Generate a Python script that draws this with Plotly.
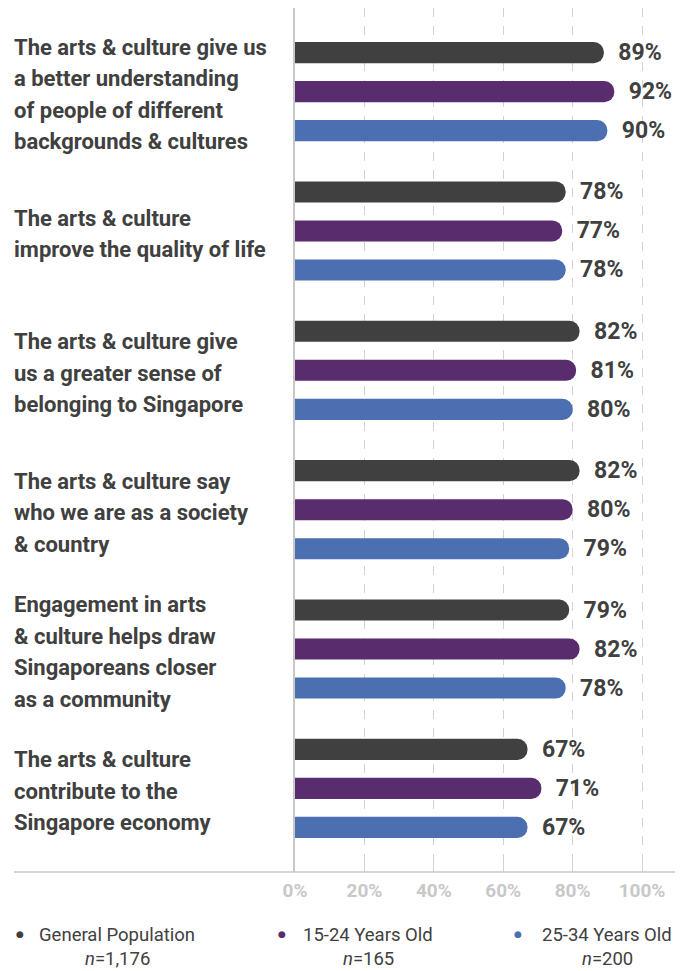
import plotly.graph_objects as go

# Survey statements (one group of bars per statement), top to bottom
statements = [
    ["The arts & culture give us", "a better understanding", "of people of different", "backgrounds & cultures"],
    ["The arts & culture", "improve the quality of life"],
    ["The arts & culture give", "us a greater sense of", "belonging to Singapore"],
    ["The arts & culture say", "who we are as a society", "& country"],
    ["Engagement in arts", "& culture helps draw", "Singaporeans closer", "as a community"],
    ["The arts & culture", "contribute to the", "Singapore economy"],
]
categories = ["s1", "s2", "s3", "s4", "s5", "s6"]

# Share agreeing (%) per respondent group
general_pop = [89, 78, 82, 82, 79, 67]
age_15_24 = [92, 77, 81, 80, 82, 71]
age_25_34 = [90, 78, 80, 79, 78, 67]

series_names = ["General Population", "15-24 Years Old", "25-34 Years Old"]
series_n = ["1,176", "165", "200"]
series_values = [general_pop, age_15_24, age_25_34]
series_colors = ["#404040", "#592c6e", "#4c6fb1"]

tick_vals = [0, 20, 40, 60, 80, 100]
tick_text = ["0%", "20%", "40%", "60%", "80%", "100%"]

FONT = "Roboto, Liberation Sans, sans-serif"
TEXT = "#404040"
GRID = "#d2d2d2"

fig = go.Figure()
for name, vals, col in zip(series_names, series_values, series_colors):
    fig.add_trace(go.Bar(
        y=categories, x=vals, orientation="h", name=name,
        marker=dict(color=col, line=dict(width=0)),
        text=["\u00a0\u00a0%d%%" % v for v in vals],
        textposition="outside", cliponaxis=False, constraintext="none",
        textfont=dict(family=FONT, size=23, color=TEXT, weight="bold"),
        hoverinfo="skip",
    ))

W, H = 687, 971
ML, MR, MT, MB = 295, 12, 8, 99
plot_w = W - ML - MR
plot_h = H - MT - MB

fig.update_layout(
    width=W, height=H,
    margin=dict(l=ML, r=MR, t=MT, b=MB, pad=0),
    paper_bgcolor="white", plot_bgcolor="white",
    barmode="group", bargap=0.16, bargroupgap=0.46,
    barcornerradius="50%",
    showlegend=False,
    font=dict(family=FONT, color=TEXT),
    xaxis=dict(
        range=[0, 109.5], tickvals=tick_vals, ticktext=tick_text,
        showgrid=True, gridcolor=GRID, griddash="dash", gridwidth=1,
        zeroline=False, showline=False,
        ticks="inside", ticklen=11, tickcolor=GRID, tickwidth=1,
        tickfont=dict(family=FONT, size=19, color="#c8c8c8", weight="bold"),
        ticklabelstandoff=5,
    ),
    yaxis=dict(
        range=[5.6, -0.6], showticklabels=False, showgrid=False,
        zeroline=False, showline=True, linecolor="#c8c8c8", linewidth=1.5,
        ticks="",
    ),
)

# Baseline that runs under the statement labels as well
fig.add_shape(type="line", xref="paper", yref="paper",
              x0=(14 - ML) / plot_w, x1=1, y0=0, y1=0,
              line=dict(color="#c8c8c8", width=1.5))

# Statement labels, left aligned, one annotation per line
LINE = 31.5
for cat, lines in zip(categories, statements):
    n = len(lines)
    for i, ln in enumerate(lines):
        fig.add_annotation(
            text=ln, xref="paper", yref="y", x=(12 - ML) / plot_w, y=cat,
            xanchor="left", yanchor="middle", showarrow=False, align="left",
            yshift=-(i - (n - 1) / 2) * LINE - 3,
            font=dict(family=FONT, size=22, color=TEXT, weight="bold"),
        )

# Legend below the axis
dot_x = [20, 282, 518]
text_c = [117, 368, 607]
for name, nn, col, dx, tc in zip(series_names, series_n, series_colors, dot_x, text_c):
    fig.add_annotation(text="\u25cf", xref="paper", yref="paper",
                       x=(dx - ML) / plot_w, y=(H - MB - 934) / plot_h,
                       xanchor="center", yanchor="middle", showarrow=False,
                       font=dict(size=9, color=col, family="DejaVu Sans"))
    fig.add_annotation(text=name, xref="paper", yref="paper",
                       x=(tc - ML) / plot_w, y=(H - MB - 935) / plot_h,
                       xanchor="center", yanchor="middle", showarrow=False,
                       font=dict(family=FONT, size=18.5, color=TEXT))
    fig.add_annotation(text="<i>n</i>=" + nn, xref="paper", yref="paper",
                       x=(tc - ML) / plot_w, y=(H - MB - 959) / plot_h,
                       xanchor="center", yanchor="middle", showarrow=False,
                       font=dict(family=FONT, size=18.5, color=TEXT))

fig.write_html("out.html")
